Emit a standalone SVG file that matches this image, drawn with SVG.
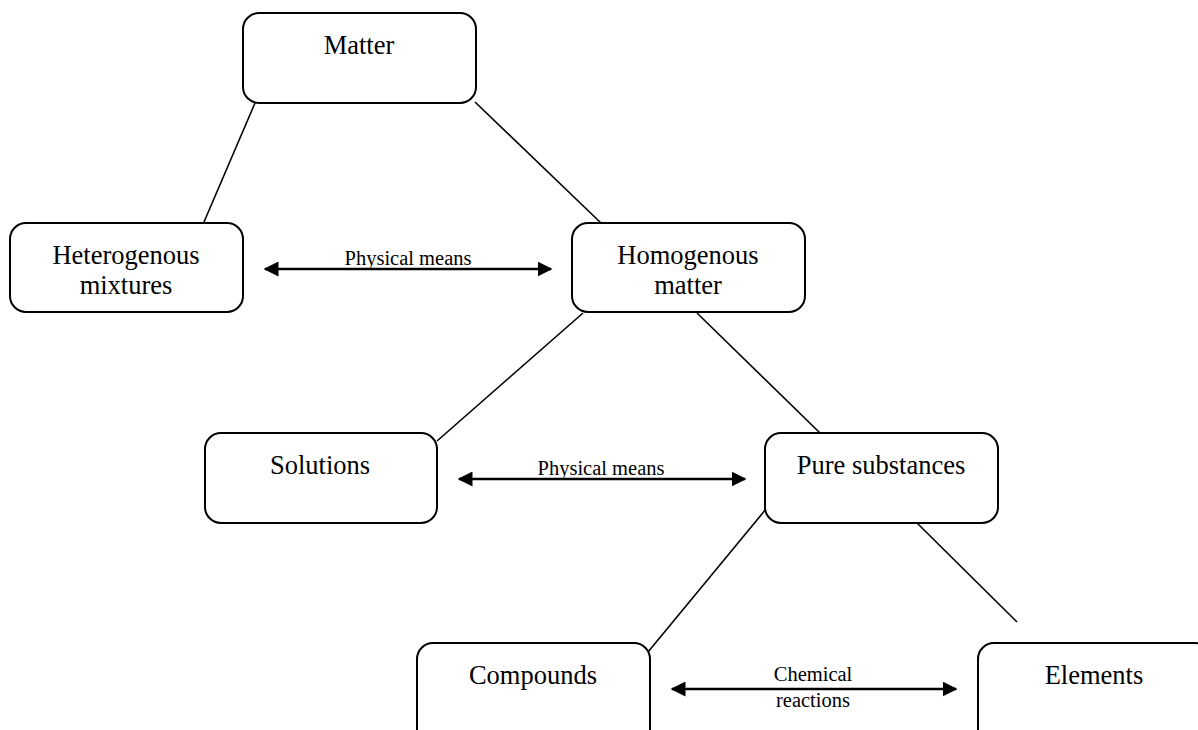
<svg xmlns="http://www.w3.org/2000/svg" width="1198" height="730" viewBox="0 0 1198 730">
<style>
.box{fill:#fff;stroke:#000;stroke-width:2}
.t{font-family:"Liberation Serif","Times New Roman",serif;font-size:26.5px;fill:#000;text-anchor:middle}
.l{font-family:"Liberation Serif","Times New Roman",serif;font-size:20.5px;fill:#000;text-anchor:middle}
.c{stroke:#000;stroke-width:1.6;fill:none}
.a{stroke:#000;stroke-width:2.5;fill:none;marker-start:url(#h);marker-end:url(#h)}
</style>
<defs>
<marker id="h" viewBox="0 0 10 10" refX="9" refY="5" markerWidth="6" markerHeight="6" orient="auto-start-reverse" markerUnits="strokeWidth">
<path d="M0,0 L10,5 L0,10 Z" fill="#000"/>
</marker>
</defs>
<rect width="1198" height="730" fill="#fff"/>
<g id="connectors">
<line class="c" x1="255" y1="103" x2="204" y2="222"/>
<line class="c" x1="475" y1="102" x2="601" y2="223"/>
<line class="c" x1="583" y1="313" x2="437" y2="441"/>
<line class="c" x1="697" y1="313" x2="820" y2="433"/>
<line class="c" x1="766" y1="509" x2="648" y2="652"/>
<line class="c" x1="917" y1="523" x2="1017" y2="622"/>
<line class="a" x1="265" y1="269" x2="551" y2="269"/>
<line class="a" x1="459" y1="479" x2="745" y2="479"/>
<line class="a" x1="672" y1="689" x2="956" y2="689"/>
<text class="l" x="408" y="265">Physical means</text>
<text class="l" x="601" y="475">Physical means</text>
<text class="l" x="813" y="681">Chemical</text>
<text class="l" x="813" y="707">reactions</text>
</g>
<g id="matter"><rect class="box" x="243" y="13" width="233" height="90" rx="16"/><text class="t" x="359" y="54">Matter</text></g>
<g id="heterogenous"><rect class="box" x="10" y="223" width="233" height="89" rx="16"/><text class="t" x="126" y="264">Heterogenous</text><text class="t" x="126" y="294">mixtures</text></g>
<g id="homogenous"><rect class="box" x="572" y="223" width="233" height="89" rx="16"/><text class="t" x="688" y="264">Homogenous</text><text class="t" x="688" y="294">matter</text></g>
<g id="solutions"><rect class="box" x="205" y="433" width="232" height="90" rx="16"/><text class="t" x="320" y="474">Solutions</text></g>
<g id="pure"><rect class="box" x="765" y="433" width="233" height="90" rx="16"/><text class="t" x="881" y="474">Pure substances</text></g>
<g id="compounds"><rect class="box" x="417" y="643" width="233" height="120" rx="16"/><text class="t" x="533" y="684">Compounds</text></g>
<g id="elements"><rect class="box" x="978" y="643" width="233" height="120" rx="16"/><text class="t" x="1094" y="684">Elements</text></g>
</svg>
